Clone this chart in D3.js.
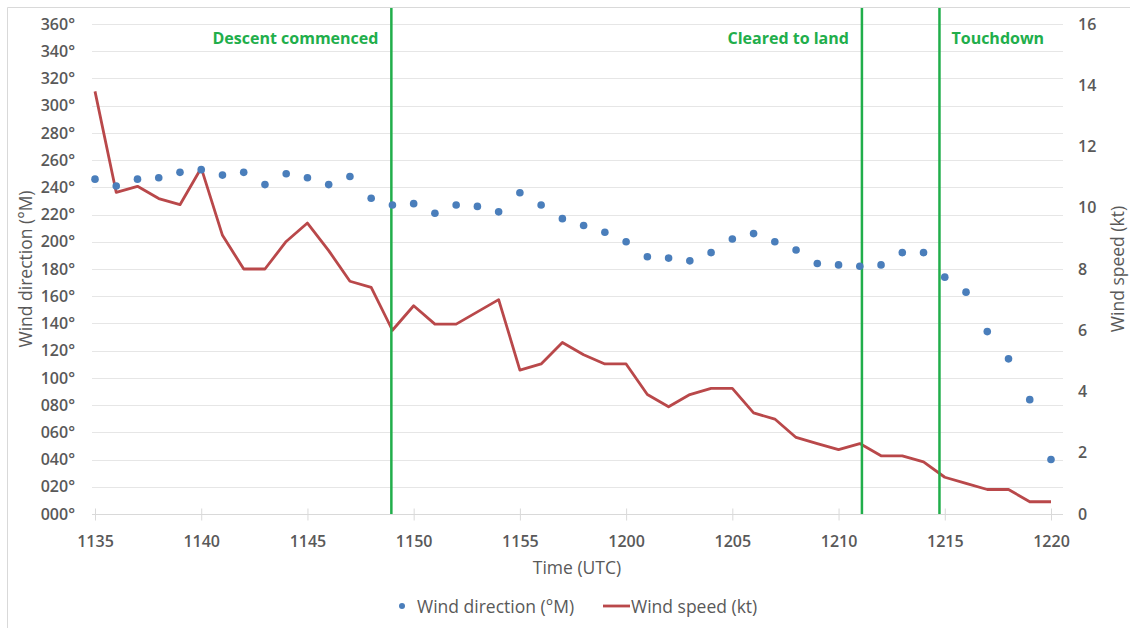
<!DOCTYPE html>
<html>
<head>
<meta charset="utf-8">
<script src="https://cdn.jsdelivr.net/npm/d3@7"></script>
<style>
  body { margin: 0; background: #fff; }
  text { font-family: "Open Sans", "Noto Sans", sans-serif; }
</style>
</head>
<body>
<div class="chart"></div>
<script>
// Data (one reading per minute, 1135 to 1220 UTC)
var times = ["1135", "1136", "1137", "1138", "1139", "1140", "1141", "1142", "1143", "1144",
  "1145", "1146", "1147", "1148", "1149", "1150", "1151", "1152", "1153", "1154",
  "1155", "1156", "1157", "1158", "1159", "1200", "1201", "1202", "1203", "1204",
  "1205", "1206", "1207", "1208", "1209", "1210", "1211", "1212", "1213", "1214",
  "1215", "1216", "1217", "1218", "1219", "1220"];

var windDirection = [246, 241, 246, 247, 251, 253, 249, 251, 242, 250,
  247, 242, 248, 232, 227, 228, 221, 227, 226, 222,
  236, 227, 217, 212, 207, 200, 189, 188, 186, 192,
  202, 206, 200, 194, 184, 183, 182, 183, 192, 192,
  174, 163, 134, 114, 84, 40];

var windSpeed = [13.8, 10.5, 10.7, 10.3, 10.1, 11.3, 9.1, 8.0, 8.0, 8.9,
  9.5, 8.6, 7.6, 7.4, 6.0, 6.8, 6.2, 6.2, 6.6, 7.0,
  4.7, 4.9, 5.6, 5.2, 4.9, 4.9, 3.9, 3.5, 3.9, 4.1,
  4.1, 3.3, 3.1, 2.5, 2.3, 2.1, 2.3, 1.9, 1.9, 1.7,
  1.2, 1.0, 0.8, 0.8, 0.4, 0.4];

// Events, as minutes after 1135
var eventNames = ["Descent commenced", "Cleared to land", "Touchdown"];
var eventMinutes = [13.95, 36.1, 39.75];
var eventSide = ["left", "left", "right"];

var dirTicks = d3.range(0, 361, 20);
var speedTicks = d3.range(0, 17, 2);
var timeTickIndex = d3.range(0, times.length, 5);

// Chart setup
var svgWidth = 1130;
var svgHeight = 628;

var plot = { left: 92, right: 1063, top: 24, bottom: 514 };
var textColor = "#595959";

var svg = d3
  .select(".chart")
  .append("svg")
  .attr("width", svgWidth)
  .attr("height", svgHeight);

// Outer frame (only top and left edges show in the picture)
svg.append("path")
  .attr("d", "M7.5," + svgHeight + "V7.5H" + svgWidth)
  .attr("fill", "none")
  .attr("stroke", "#d9d9d9")
  .attr("stroke-width", 1);

// Scales
var xScale = d3.scaleLinear().domain([0, times.length - 1]).range([95, 1051]);
var yDir = d3.scaleLinear().domain([0, 360]).range([plot.bottom, plot.top]);
var ySpeed = d3.scaleLinear().domain([0, 16]).range([plot.bottom, plot.top]);

// Horizontal gridlines
svg.append("g")
  .selectAll("line")
  .data(dirTicks.slice(1))
  .enter()
  .append("line")
  .attr("x1", plot.left)
  .attr("x2", plot.right)
  .attr("y1", function(d) { return Math.round(yDir(d)) + 0.5; })
  .attr("y2", function(d) { return Math.round(yDir(d)) + 0.5; })
  .attr("stroke", "#e6e6e6")
  .attr("stroke-width", 1);

// Bottom axis line and ticks
var bottomAxis = d3.axisBottom(xScale)
  .tickValues(timeTickIndex)
  .tickFormat(function(i) { return times[i]; })
  .tickSize(6)
  .tickPadding(15);

var xAxisG = svg.append("g")
  .attr("class", "x-axis")
  .attr("transform", "translate(0," + (plot.bottom + 0.5) + ")")
  .call(bottomAxis);

xAxisG.select(".domain")
  .attr("d", "M" + plot.left + ",0H" + plot.right)
  .attr("stroke", "#d9d9d9");
xAxisG.selectAll(".tick line")
  .attr("y1", -6)
  .attr("stroke", "#d9d9d9");
xAxisG.selectAll(".tick text")
  .attr("fill", textColor)
  .style("font-size", "16px")
  .style("font-weight", "600");

// Left axis (wind direction)
var leftAxis = d3.axisLeft(yDir)
  .tickValues(dirTicks)
  .tickFormat(function(d) { return d3.format("03d")(d) + "°"; })
  .tickSize(0)
  .tickPadding(17);

var leftG = svg.append("g")
  .attr("transform", "translate(" + plot.left + ",0)")
  .call(leftAxis);
leftG.select(".domain").remove();
leftG.selectAll("text")
  .attr("fill", textColor)
  .style("font-size", "16px")
  .style("font-weight", "600");

// Right axis (wind speed)
var rightAxis = d3.axisRight(ySpeed)
  .tickValues(speedTicks)
  .tickSize(0)
  .tickPadding(15);

var rightG = svg.append("g")
  .attr("transform", "translate(" + plot.right + ",0)")
  .call(rightAxis);
rightG.select(".domain").remove();
rightG.selectAll("text")
  .attr("fill", textColor)
  .style("font-size", "16px")
  .style("font-weight", "600");

// Axis titles
svg.append("text")
  .attr("transform", "translate(25," + (plot.top + plot.bottom) / 2 + ") rotate(-90)")
  .attr("text-anchor", "middle")
  .attr("dominant-baseline", "central")
  .attr("fill", textColor)
  .style("font-size", "17.5px")
  .text("Wind direction (°M)");

svg.append("text")
  .attr("transform", "translate(1117," + (plot.top + plot.bottom) / 2 + ") rotate(-90)")
  .attr("text-anchor", "middle")
  .attr("dominant-baseline", "central")
  .attr("fill", textColor)
  .style("font-size", "17.5px")
  .text("Wind speed (kt)");

svg.append("text")
  .attr("x", 577)
  .attr("y", 567)
  .attr("text-anchor", "middle")
  .attr("dominant-baseline", "central")
  .attr("fill", textColor)
  .style("font-size", "17.5px")
  .text("Time (UTC)");

// Wind speed line
var speedLine = d3.line()
  .x(function(d, i) { return xScale(i); })
  .y(function(d) { return ySpeed(d); });

svg.append("path")
  .datum(windSpeed)
  .attr("d", speedLine)
  .attr("fill", "none")
  .attr("stroke", "#b9484a")
  .attr("stroke-width", 2.8)
  .attr("stroke-linejoin", "round");

// Event markers
var events = svg.append("g")
  .selectAll("g")
  .data(eventMinutes)
  .enter()
  .append("g");

events.append("line")
  .attr("x1", function(d) { return xScale(d); })
  .attr("x2", function(d) { return xScale(d); })
  .attr("y1", 8)
  .attr("y2", plot.bottom)
  .attr("stroke", "#21ae4b")
  .attr("stroke-width", 2.5);

events.append("text")
  .attr("x", function(d, i) {
    return eventSide[i] === "left" ? xScale(d) - 13 : xScale(d) + 12;
  })
  .attr("y", 38)
  .attr("text-anchor", function(d, i) { return eventSide[i] === "left" ? "end" : "start"; })
  .attr("dominant-baseline", "central")
  .attr("fill", "#21ae4b")
  .style("font-size", "16px")
  .style("font-weight", "bold")
  .text(function(d, i) { return eventNames[i]; });

// Wind direction dots
svg.append("g")
  .selectAll("circle")
  .data(windDirection)
  .enter()
  .append("circle")
  .attr("cx", function(d, i) { return xScale(i); })
  .attr("cy", function(d) { return yDir(d); })
  .attr("r", 3.8)
  .attr("fill", "#4a7ebb");

// Legend
var legend = svg.append("g").attr("transform", "translate(0,606)");

legend.append("circle")
  .attr("cx", 402)
  .attr("cy", 0)
  .attr("r", 3)
  .attr("fill", "#4a7ebb");

legend.append("text")
  .attr("x", 417)
  .attr("y", 0)
  .attr("dominant-baseline", "central")
  .attr("fill", textColor)
  .style("font-size", "17.5px")
  .text("Wind direction (°M)");

legend.append("line")
  .attr("x1", 603)
  .attr("x2", 630)
  .attr("y1", 0)
  .attr("y2", 0)
  .attr("stroke", "#b9484a")
  .attr("stroke-width", 2.8);

legend.append("text")
  .attr("x", 631)
  .attr("y", 0)
  .attr("dominant-baseline", "central")
  .attr("fill", textColor)
  .style("font-size", "17.5px")
  .text("Wind speed (kt)");
</script>
</body>
</html>
